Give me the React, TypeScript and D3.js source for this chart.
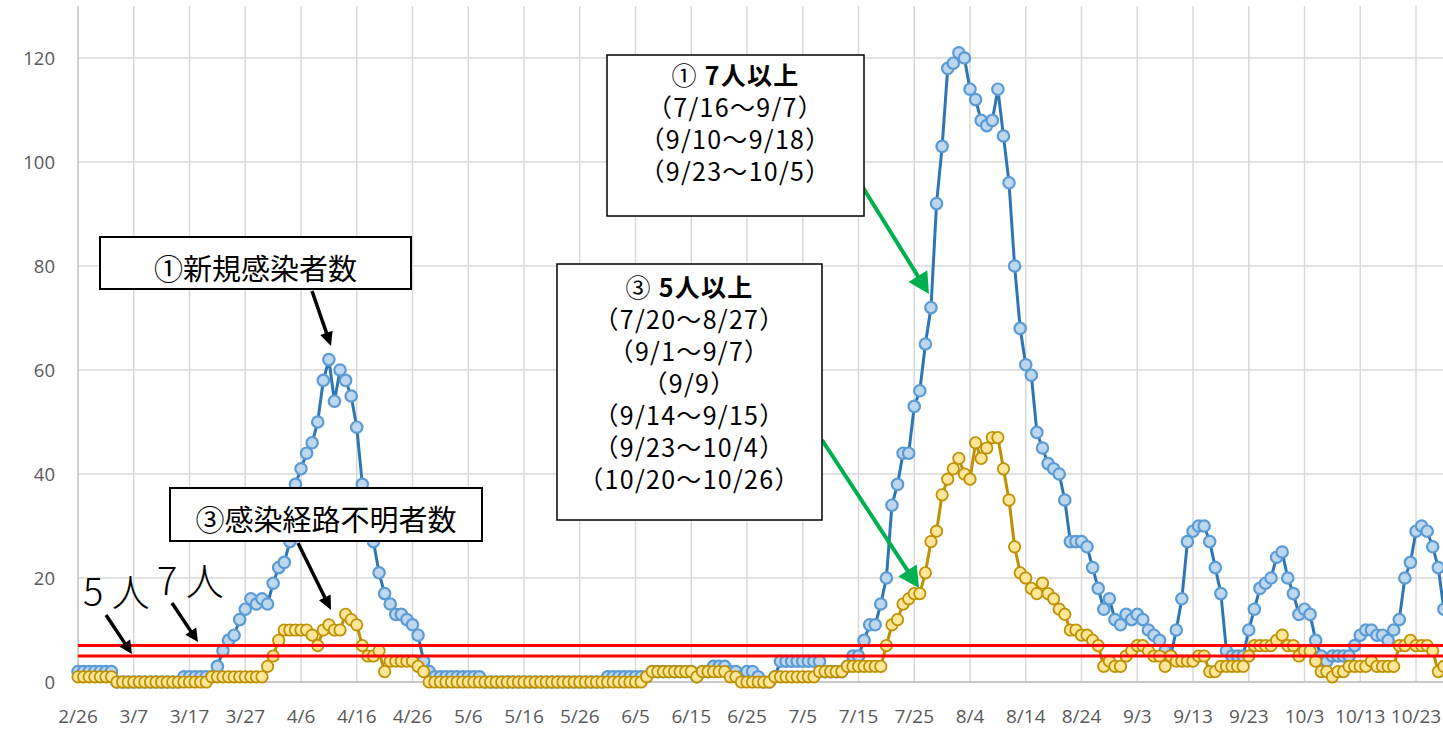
import React from 'react';
import * as d3 from 'd3';

// ---- data (2020-02-26 .. 2020-10-28, one value per day) ----
const startDate = new Date(2020, 1, 26);
const endDateExclusive = new Date(2020, 9, 29);

// ① 新規感染者数
const newCases = [
  2, 2, 2, 2, 2, 2, 2,
  0, 0, 0, 0, 0, 0, 0, 0, 0, 0, 0, 0,
  1, 1, 1, 1, 1, 1,
  3, 6, 8, 9, 12, 14,
  16, 15, 16, 15, 19, 22, 23, 27, 38, 41,
  44, 46, 50, 58, 62, 54, 60, 58, 55, 49,
  38, 33, 27, 21, 17, 15, 13, 13, 12, 11,
  9, 4, 2, 1,
  1, 1, 1, 1, 1, 1, 1, 1,
  0, 0, 0, 0, 0, 0, 0, 0, 0, 0, 0, 0, 0, 0, 0, 0, 0, 0, 0, 0, 0, 0,
  1, 1, 1, 1, 1, 1, 1, 1,
  2, 2, 2, 2, 2, 2, 2, 2,
  1, 2, 2,
  3, 3, 3,
  2, 2, 1, 2, 2, 1, 0, 0, 1,
  4, 4, 4, 4, 4, 4, 4, 4,
  2, 2, 2, 2, 3, 5, 5,
  8, 11, 11, 15, 20, 34, 38, 44, 44, 53,
  56, 65, 72, 92, 103, 118, 119, 121, 120, 114,
  112, 108, 107, 108, 114, 105, 96, 80, 68, 61,
  59, 48, 45, 42, 41, 40, 35, 27, 27, 27,
  26, 22, 18, 14, 16, 12, 11, 13, 12, 13,
  12, 10, 9, 8, 6, 5, 10, 16, 27, 29,
  30, 30, 27, 22, 17, 6, 5, 5, 5, 10,
  14, 18, 19, 20, 24, 25, 20, 17, 13, 14,
  13, 8, 5, 4, 5, 5, 5, 5, 7, 9,
  10, 10, 9, 9, 8, 10, 12, 20, 23, 29,
  30, 29, 26, 22, 14,
];

// ③ 感染経路不明者数
const unknownRoute = [
  1, 1, 1, 1, 1, 1, 1,
  0, 0, 0, 0, 0, 0, 0, 0, 0, 0, 0, 0, 0, 0, 0, 0, 0,
  1, 1, 1, 1, 1, 1, 1, 1, 1, 1,
  3, 5, 8, 10, 10, 10, 10,
  10, 9, 7, 10, 11, 10, 10, 13, 12, 11,
  7, 5, 5, 6, 2, 4, 4, 4, 4, 4,
  3, 2,
  0, 0, 0, 0, 0, 0, 0, 0, 0, 0, 0, 0, 0, 0, 0, 0, 0, 0, 0, 0,
  0, 0, 0, 0, 0, 0, 0, 0, 0, 0, 0, 0, 0, 0, 0, 0, 0, 0, 0,
  1,
  2, 2, 2, 2, 2, 2, 2, 2,
  1,
  2, 2, 2, 2, 2,
  1, 1,
  0, 0, 0, 0, 0, 0,
  1, 1, 1, 1, 1, 1, 1, 1,
  2, 2, 2, 2, 2,
  3, 3, 3, 3, 3, 3, 3,
  7, 11, 12, 15, 16, 17,
  17, 21, 27, 29, 36, 39, 41, 43, 40, 39,
  46, 43, 45, 47, 47, 41, 35, 26, 21, 20,
  18, 17, 19, 17, 16, 14, 13, 10, 10, 9,
  9, 8, 7, 3, 4, 3, 3, 5, 6, 7,
  7, 6, 5, 5, 3, 5, 4, 4, 4, 4,
  5, 5, 2, 2, 3, 3, 3, 3, 3, 5,
  7, 7, 7, 7, 8, 9, 7, 7, 5, 6,
  6, 4, 2, 2, 1, 2, 2, 3, 3, 3,
  3, 4, 3, 3, 3, 3, 7, 7, 8, 7,
  7, 7, 6, 2, 3,
];

const xTickLabels = [
  '2/26', '3/7', '3/17', '3/27', '4/6', '4/16', '4/26', '5/6', '5/16', '5/26',
  '6/5', '6/15', '6/25', '7/5', '7/15', '7/25', '8/4', '8/14', '8/24', '9/3',
  '9/13', '9/23', '10/3', '10/13', '10/23',
];
const yTicks = [0, 20, 40, 60, 80, 100, 120];
const thresholds = [5, 7];

const box1Head = ['① ', '7人以上'];
const box1Lines = ['（7/16～9/7）', '（9/10～9/18）', '（9/23～10/5）'];
const box3Head = ['③ ', '5人以上'];
const box3Lines = [
  '（7/20～8/27）',
  '（9/1～9/7）',
  '（9/9）',
  '（9/14～9/15）',
  '（9/23～10/4）',
  '（10/20～10/26）',
];

const W = 1443;
const H = 729;
const JP = '"Noto Sans CJK JP", "Noto Sans", sans-serif';
const AX = '"Open Sans", "Noto Sans", sans-serif';

function Arrow({ x1, y1, x2, y2, color, width, headLen, headW }: any) {
  const dx = x2 - x1;
  const dy = y2 - y1;
  const len = Math.sqrt(dx * dx + dy * dy);
  const ux = dx / len;
  const uy = dy / len;
  const bx = x2 - ux * headLen;
  const by = y2 - uy * headLen;
  const px = -uy * headW / 2;
  const py = ux * headW / 2;
  return (
    <g>
      <line x1={x1} y1={y1} x2={bx + ux * 2} y2={by + uy * 2} stroke={color} strokeWidth={width} />
      <polygon points={`${x2},${y2} ${bx + px},${by + py} ${bx - px},${by - py}`} fill={color} />
    </g>
  );
}

function MultiLineBox({ x, y, w, h, cx, firstY, head, lines, fontSize, ls }: any) {
  return (
    <g>
      <rect x={x} y={y} width={w} height={h} fill="#fff" stroke="#000" strokeWidth={1.5} />
      <text
        x={cx}
        y={firstY}
        textAnchor="middle"
        fontFamily={JP}
        fontSize={fontSize}
        letterSpacing={ls}
        fill="#000"
      >
        <tspan x={cx} dy="0.35em">
          {head[0]}
          <tspan fontWeight={700}>{head[1]}</tspan>
        </tspan>
        {lines.map((l: string, k: number) => (
          <tspan key={k} x={cx} dy={32}>
            {l}
          </tspan>
        ))}
      </text>
    </g>
  );
}

export default function App() {
  const dates = d3.timeDay.range(startDate, endDateExclusive);
  const x = d3.scaleLinear().domain([0, 240]).range([78, 1416]);
  const y = d3.scaleLinear().domain([0, 120]).range([682, 58]);
  const tickIdx = xTickLabels.map((_, i) => i * 10);

  const blue = dates.map((d, i) => ({ i, v: newCases[i] })).filter((p) => p.v !== undefined);
  const gold = dates.map((d, i) => ({ i, v: unknownRoute[i] })).filter((p) => p.v !== undefined);

  const line = d3
    .line<{ i: number; v: number }>()
    .x((p) => x(p.i))
    .y((p) => y(p.v));

  const plotTop = 6;
  const R = 5.7;

  return (
    <svg
      width={W}
      height={H}
      style={{ position: 'absolute', left: 0, top: 0, background: '#fff' }}
    >
      <rect x={0} y={0} width={W} height={H} fill="#fff" />
      {/* gridlines */}
      {yTicks.map((t) => (
        <line key={'gy' + t} x1={x(0)} x2={W} y1={y(t)} y2={y(t)} stroke="#d9d9d9" strokeWidth={1.5} />
      ))}
      {tickIdx.map((t) =>
        t === 0 ? null : (
          <line key={'gx' + t} x1={x(t)} x2={x(t)} y1={plotTop} y2={y(0)} stroke="#d9d9d9" strokeWidth={1.5} />
        )
      )}
      <line x1={x(0)} x2={x(0)} y1={plotTop} y2={y(0)} stroke="#bfbfbf" strokeWidth={1.5} />
      <line x1={x(0)} x2={W} y1={y(0)} y2={y(0)} stroke="#bfbfbf" strokeWidth={1.5} />

      {/* y tick labels */}
      {yTicks.map((t) => (
        <text key={'ly' + t} x={55} y={y(t)} dy="0.36em" textAnchor="end" fontFamily={AX} fontSize={18.5} fill="#595959">
          {t}
        </text>
      ))}
      {/* x tick labels */}
      {xTickLabels.map((l, k) => (
        <text key={'lx' + l} x={x(tickIdx[k])} y={723} textAnchor="middle" fontFamily={AX} fontSize={19} fill="#595959">
          {l}
        </text>
      ))}

      {/* series 1 */}
      <path d={line(blue) || ''} fill="none" stroke="#2e75b6" strokeWidth={3} strokeLinejoin="round" />
      {blue.map((p) => (
        <circle key={'b' + p.i} cx={x(p.i)} cy={y(p.v)} r={R} fill="#bdd7ee" stroke="#5b9bd5" strokeWidth={2.2} />
      ))}
      {/* series 3 */}
      <path d={line(gold) || ''} fill="none" stroke="#bf9000" strokeWidth={3} strokeLinejoin="round" />
      {gold.map((p) => (
        <circle key={'g' + p.i} cx={x(p.i)} cy={y(p.v)} r={R} fill="#ffe699" stroke="#bf9000" strokeWidth={1.8} />
      ))}

      {/* threshold lines */}
      {thresholds.map((t) => (
        <line key={'th' + t} x1={x(0)} x2={W} y1={y(t)} y2={y(t)} stroke="#ff0000" strokeWidth={3} />
      ))}

      {/* 5人 7人 labels */}
      <text x={83} y={606} fontFamily={JP} fontWeight={300} fontSize={38} fill="#000">5 人</text>
      <text x={157} y={595} fontFamily={JP} fontWeight={300} fontSize={38} fill="#000">7 人</text>
      <Arrow x1={106} y1={615} x2={132} y2={654} color="#000" width={3.5} headLen={13} headW={13} />
      <Arrow x1={172} y1={603} x2={198} y2={642} color="#000" width={3.5} headLen={13} headW={13} />

      {/* ① box */}
      <rect x={100} y={237} width={311} height={52} fill="#fff" stroke="#000" strokeWidth={2} />
      <text x={255.5} y={270} dy="0.35em" textAnchor="middle" fontFamily={JP} fontSize={29} fill="#000">
        ①新規感染者数
      </text>
      <Arrow x1={312} y1={291} x2={331} y2={346} color="#000" width={3.5} headLen={14} headW={13} />

      {/* ③ box */}
      <rect x={170} y={488} width={312} height={53} fill="#fff" stroke="#000" strokeWidth={2} />
      <text x={326} y={521} dy="0.35em" textAnchor="middle" fontFamily={JP} fontSize={29} fill="#000">
        ③感染経路不明者数
      </text>
      <Arrow x1={298} y1={543} x2={331} y2={610} color="#000" width={3.5} headLen={14} headW={13} />

      {/* green arrows */}
      <Arrow x1={862} y1={186} x2={929} y2={294} color="#00b050" width={4} headLen={21} headW={22} />
      <Arrow x1={822} y1={440} x2={919} y2={588} color="#00b050" width={4} headLen={21} headW={22} />

      {/* ① 7人以上 box */}
      <MultiLineBox x={607} y={55} w={257} h={161} cx={735.5} firstY={76} head={box1Head} lines={box1Lines} fontSize={25} ls={1.3} />
      {/* ③ 5人以上 box */}
      <MultiLineBox x={557} y={264} w={265} h={256} cx={689.5} firstY={288} head={box3Head} lines={box3Lines} fontSize={25} ls={1.3} />
    </svg>
  );
}
